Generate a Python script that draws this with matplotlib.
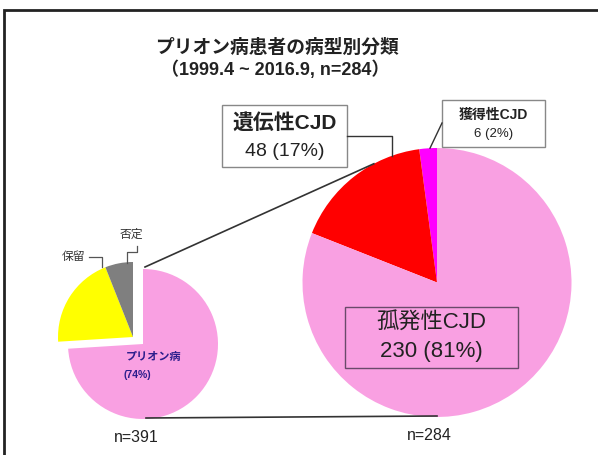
import numpy as np
import matplotlib
matplotlib.use('Agg')
import matplotlib.pyplot as plt
from matplotlib.patches import Rectangle

plt.rcParams['font.family'] = ['Liberation Sans', 'Noto Sans CJK JP']

# データ
title1 = 'プリオン病患者の病型別分類'
title2 = '（1999.4 ~ 2016.9, n=284）'

small_labels = ['プリオン病', '保留', '否定']
small_pct = [74, 20, 6]          # n=391
small_colors = ['#F9A0E2', '#FFFF00', '#7F7F7F']
small_n = 391

big_labels = ['獲得性CJD', '遺伝性CJD', '孤発性CJD']
big_counts = [6, 48, 230]        # n=284
big_colors = ['#FF00FF', '#FF0000', '#F9A0E2']
big_n = sum(big_counts)

W, H = 598, 455
fig = plt.figure(figsize=(W / 100, H / 100), dpi=100)
ax = fig.add_axes([0, 0, 1, 1])
ax.set_xlim(0, W)
ax.set_ylim(0, H)
ax.set_aspect('equal')
ax.axis('off')

def y(v):  # 画像座標(上から)→データ座標
    return H - v

# 外枠
ax.add_patch(Rectangle((4, -10), 620, y(10) + 10, fill=False, ec='#222222', lw=2, clip_on=False))

# 小さい円グラフ
sc = (143, y(344))
sr = 75
sw, _ = ax.pie(small_pct, colors=small_colors, startangle=90, counterclock=False,
               center=sc, radius=sr, wedgeprops=dict(linewidth=0))
for w in sw[1:]:
    w.set_center((sc[0] - 10, sc[1] + 7))

# 大きい円グラフ
bc = (437, y(282.5))
br = 134.5
bw, _ = ax.pie(big_counts, colors=big_colors, startangle=90, counterclock=True,
               center=bc, radius=br, wedgeprops=dict(linewidth=0))
ax.set_xlim(0, W)
ax.set_ylim(0, H)

# 拡大の線
a = np.deg2rad(118)
ax.plot([145, bc[0] + br * np.cos(a)], [y(267), bc[1] + br * np.sin(a)], color='#333333', lw=1.2)
ax.plot([sc[0] + 3, bc[0]], [sc[1] - sr + 1, bc[1] - br + 1], color='#333333', lw=1.2)

# タイトル
ax.text(277, y(48), title1, ha='center', va='center', fontsize=13.5, fontweight='bold', color='#222222')
ax.text(275, y(70), title2, ha='center', va='center', fontsize=13, fontweight='bold', color='#222222')

# 小円のラベル
ax.text(74, y(257), small_labels[1], ha='center', va='center', fontsize=8.5, color='#333333')
ax.plot([89, 102, 102], [y(257), y(257), y(267)], color='#555555', lw=0.9)
ax.text(131, y(235), small_labels[2], ha='center', va='center', fontsize=8.5, color='#333333')
ax.plot([137, 137, 127, 127], [y(246), y(252), y(252), y(263)], color='#555555', lw=0.9)
ax.text(126, y(357), small_labels[0], ha='left', va='center', fontsize=8, fontweight='bold', color='#2B1D8C')
ax.text(124, y(375), '(%d%%)' % small_pct[0], ha='left', va='center', fontsize=7.5,
        fontweight='bold', color='#2B1D8C')

# 大円のラベル
pct = [round(c * 100 / big_n) for c in big_counts]

# 遺伝性
ax.add_patch(Rectangle((222, y(167)), 125, 62, fc='white', ec='#888888', lw=1))
ax.text(284.5, y(123), big_labels[1], ha='center', va='center', fontsize=15, fontweight='bold', color='#222222')
ax.text(284.5, y(152), '%d (%d%%)' % (big_counts[1], pct[1]), ha='center', va='center', fontsize=14, color='#222222')
ex = 392
ey = bc[1] + np.sqrt(br ** 2 - (ex - bc[0]) ** 2)
ax.plot([347, ex, ex], [y(136), y(136), ey], color='#333333', lw=1)

# 獲得性
ax.add_patch(Rectangle((442, y(147)), 103, 47, fc='white', ec='#888888', lw=1))
ax.text(493.5, y(115), big_labels[0], ha='center', va='center', fontsize=10, fontweight='bold', color='#222222')
ax.text(493.5, y(134), '%d (%d%%)' % (big_counts[0], pct[0]), ha='center', va='center', fontsize=9.5, color='#222222')
ex = 430
ey = bc[1] + np.sqrt(br ** 2 - (ex - bc[0]) ** 2)
ax.plot([442, ex], [y(123), ey], color='#333333', lw=1)

# 孤発性
ax.add_patch(Rectangle((345, y(368)), 173, 61, fill=False, ec='#6A4A6A', lw=1))
ax.text(431.5, y(323), big_labels[2], ha='center', va='center', fontsize=16, color='#222222')
ax.text(431.5, y(352), '%d (%d%%)' % (big_counts[2], pct[2]), ha='center', va='center', fontsize=16, color='#222222')

# n
ax.text(136, y(438), 'n=%d' % small_n, ha='center', va='center', fontsize=11.5, color='#222222')
ax.text(429, y(436), 'n=%d' % big_n, ha='center', va='center', fontsize=11.5, color='#222222')

fig.savefig('out.png', dpi=100)
